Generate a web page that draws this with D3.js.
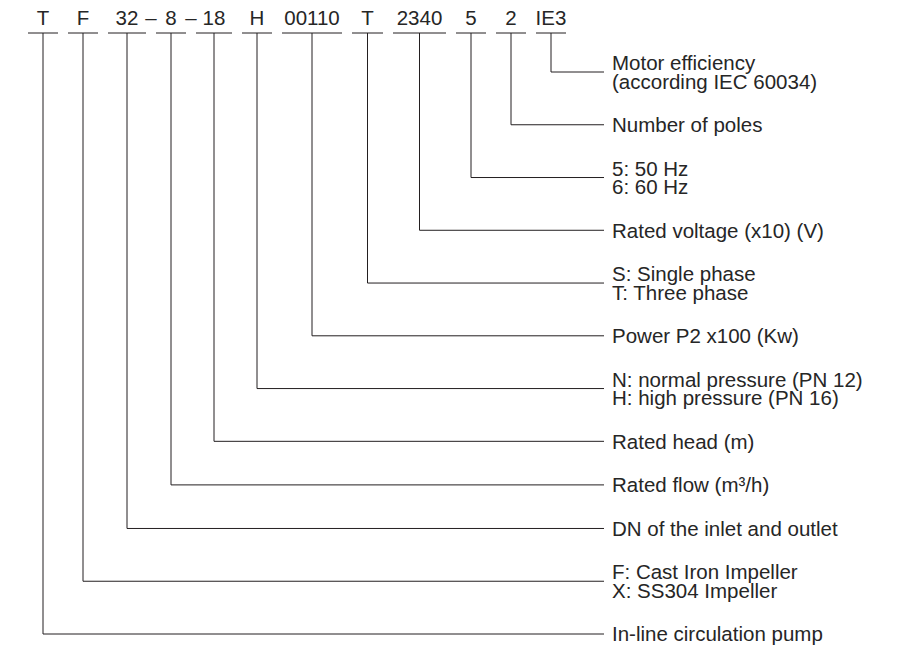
<!DOCTYPE html>
<html>
<head>
<meta charset="utf-8">
<script src="https://cdn.jsdelivr.net/npm/d3@7"></script>
<style>
  html, body { margin: 0; padding: 0; background: #fff; }
  svg { display: block; }
  text { font-family: "Liberation Sans", Arial, Helvetica, sans-serif; fill: #262626; }
</style>
</head>
<body>
<svg id="chart" width="903" height="648"></svg>
<script>
// ---- DATA ----
const codes = ["T", "F", "32", "8", "18", "H", "00110", "T", "2340", "5", "2", "IE3"];
const separators = [{ after: "32", text: "–" }, { after: "8", text: "–" }];
const descriptions = [
  ["In-line circulation pump"],
  ["F: Cast Iron Impeller", "X: SS304 Impeller"],
  ["DN of the inlet and outlet"],
  ["Rated flow (m³/h)"],
  ["Rated head (m)"],
  ["N: normal pressure (PN 12)", "H: high pressure (PN 16)"],
  ["Power P2 x100 (Kw)"],
  ["S: Single phase", "T: Three phase"],
  ["Rated voltage (x10) (V)"],
  ["5: 50 Hz", "6: 60 Hz"],
  ["Number of poles"],
  ["Motor efficiency", "(according IEC 60034)"]
];

// ---- LAYOUT ----
const fontSize = 20.5;
const codeBaseline = 25, underlineY = 33;
const codeLeft = 28, codeGap = 10;
const segUnits = [30, 30, 38, 30, 36, 30, 60, 31, 53, 30, 30, 30]; // underline lengths
const lineEndX = 604, textX = 612;
const lineHeight = 18.5, blockGap = 25.4;
const yTop = 72, yBottom = 634;

const svg = d3.select("#chart");

let acc = 0;
const segs = codes.map((c, i) => {
  const s = { i, code: c, start: acc, end: acc + segUnits[i] };
  acc += segUnits[i] + codeGap;
  return s;
});
const x = d3.scaleLinear().domain([0, 1]).range([codeLeft, codeLeft + 1]);

const order = d3.range(codes.length).reverse();
let u = 0;
const yUnits = {};
order.forEach((idx, k) => {
  const n = descriptions[idx].length;
  if (k > 0) {
    const prevN = descriptions[order[k - 1]].length;
    u += prevN * lineHeight / 2 + blockGap + n * lineHeight / 2;
  }
  yUnits[idx] = u;
});
const y = d3.scaleLinear().domain([0, u]).range([yTop, yBottom]);

const g = svg.append("g");

g.selectAll("text.code").data(segs).join("text")
  .attr("class", "code")
  .attr("x", d => (x(d.start) + x(d.end)) / 2)
  .attr("y", codeBaseline)
  .attr("text-anchor", "middle")
  .attr("font-size", fontSize)
  .text(d => d.code);

g.selectAll("text.sep").data(separators).join("text")
  .attr("class", "sep")
  .attr("x", d => {
    const i = codes.indexOf(d.after);
    return (x(segs[i].end) + x(segs[i + 1].start)) / 2;
  })
  .attr("y", codeBaseline)
  .attr("text-anchor", "middle")
  .attr("font-size", fontSize)
  .text(d => d.text);

g.selectAll("line.ul").data(segs).join("line")
  .attr("class", "ul")
  .attr("x1", d => x(d.start)).attr("x2", d => x(d.end))
  .attr("y1", underlineY).attr("y2", underlineY)
  .attr("stroke", "#231f20").attr("stroke-width", 1);

g.selectAll("path.leader").data(segs).join("path")
  .attr("class", "leader")
  .attr("d", d => {
    const cx = (x(d.start) + x(d.end)) / 2;
    return `M${cx},${underlineY}V${y(yUnits[d.i])}H${lineEndX}`;
  })
  .attr("fill", "none")
  .attr("stroke", "#231f20").attr("stroke-width", 1);

const desc = g.selectAll("text.desc").data(segs).join("text")
  .attr("class", "desc")
  .attr("font-size", fontSize)
  .attr("x", textX);
desc.each(function(d) {
  const lines = descriptions[d.i];
  const cy = y(yUnits[d.i]);
  const first = cy - (lines.length - 1) * lineHeight / 2;
  d3.select(this).selectAll("tspan").data(lines).join("tspan")
    .attr("x", textX)
    .attr("y", (l, k) => first + k * lineHeight)
    .attr("dy", "0.36em")
    .text(l => l);
});
</script>
</body>
</html>
